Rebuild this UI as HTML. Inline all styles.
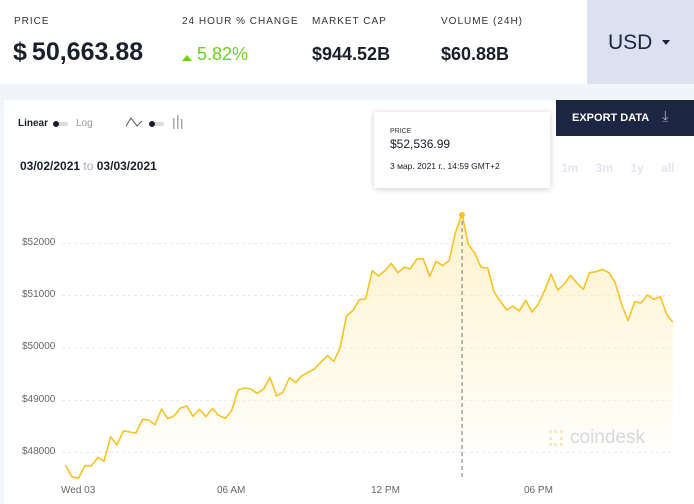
<!DOCTYPE html>
<html><head><meta charset="utf-8"><style>
*{margin:0;padding:0;box-sizing:border-box}
body{width:694px;height:504px;background:#f1f4f9;font-family:"Liberation Sans",sans-serif;position:relative;overflow:hidden;color:#1b1e2b}
.a{position:absolute;white-space:nowrap}
.lbl{font-size:10px;letter-spacing:1px;color:#333;top:16px}
.val{font-weight:bold;top:40px;font-size:19px}
</style></head><body>
<div class="a" style="left:0;top:0;width:587px;height:84px;background:#fff"></div>
<div class="a" style="left:587px;top:0;width:107px;height:84px;background:#dce1f0"></div>
<div class="a" style="left:608px;top:31px;font-size:21px;color:#1c2541">USD</div>
<div class="a" style="left:662px;top:40px;width:0;height:0;border-left:4px solid transparent;border-right:4px solid transparent;border-top:5px solid #1c2541"></div>
<div class="a lbl" style="left:14px">PRICE</div>
<div class="a lbl" style="left:182px">24 HOUR % CHANGE</div>
<div class="a lbl" style="left:312px">MARKET CAP</div>
<div class="a lbl" style="left:441px">VOLUME (24H)</div>
<div class="a" style="left:13px;top:38px;font-size:25px;font-weight:bold">$&thinsp;50,663.88</div>
<div class="a" style="left:182px;top:55px;width:0;height:0;border-left:5px solid transparent;border-right:5px solid transparent;border-bottom:6px solid #6ad21f"></div>
<div class="a" style="left:197px;top:44px;font-size:18px;color:#6ad21f">5.82%</div>
<div class="a val" style="left:312px;top:44px;font-size:18px">$944.52B</div>
<div class="a val" style="left:441px;top:44px;font-size:18px">$60.88B</div>

<div class="a" style="left:4px;top:100px;width:690px;height:404px;background:#fff"></div>
<div class="a" style="left:556px;top:100px;width:138px;height:36px;background:#1c2541"></div>
<div class="a" style="left:572px;top:112px;font-size:11px;font-weight:bold;color:#fff">EXPORT DATA</div>
<div class="a" style="left:662px;top:108px;font-size:15px;color:#aab">&#x2913;</div>

<div class="a" style="left:18px;top:118px;font-size:10px;font-weight:bold">Linear</div>
<div class="a" style="left:54px;top:122px;width:14px;height:4px;background:#ddd;border-radius:2px"></div>
<div class="a" style="left:53px;top:121px;width:6px;height:6px;background:#1b1e2b;border-radius:3px"></div>
<div class="a" style="left:76px;top:118px;font-size:10px;color:#999">Log</div>
<svg class="a" style="left:124px;top:115px" width="66" height="16"><polyline points="2,11 7,3 13,11 18,6" fill="none" stroke="#555" stroke-width="1"/><rect x="26" y="7" width="14" height="4" rx="2" fill="#ddd"/><circle cx="28" cy="9" r="3" fill="#1b1e2b"/><rect x="49" y="3" width="1.5" height="11" fill="#aaa"/><rect x="53" y="0" width="1.5" height="14" fill="#aaa"/><rect x="57" y="4" width="1.5" height="10" fill="#aaa"/></svg>
<div class="a" style="left:20px;top:159px;font-size:12px;font-weight:bold">03/02/2021 <span style="color:#aab;font-weight:normal">to</span> 03/03/2021</div>
<div class="a" style="left:561px;top:161px;font-size:12px;font-weight:bold;color:#e3e6ee;word-spacing:14px">1m 3m 1y all</div>

<svg class="a" style="left:0;top:200px" width="694" height="304" viewBox="0 0 1568 912" preserveAspectRatio="none">
<defs><linearGradient id="g" x1="0" y1="0" x2="0" y2="1"><stop offset="0" stop-color="#ffe9a8" stop-opacity=".6"/><stop offset="0.75" stop-color="#fff6dc" stop-opacity=".4"/><stop offset="1" stop-color="#fff" stop-opacity="0"/></linearGradient></defs>
<g stroke="#e6e8f0" stroke-dasharray="3,3" vector-effect="non-scaling-stroke">
<line x1="140" y1="130" x2="1520" y2="130" vector-effect="non-scaling-stroke"/><line x1="140" y1="287" x2="1520" y2="287" vector-effect="non-scaling-stroke"/><line x1="140" y1="444" x2="1520" y2="444" vector-effect="non-scaling-stroke"/><line x1="140" y1="601" x2="1520" y2="601" vector-effect="non-scaling-stroke"/><line x1="140" y1="757" x2="1520" y2="757" vector-effect="non-scaling-stroke"/></g>
<polygon fill="url(#g)" points="148,840 148,795 162,830 177,835 192,797 206,798 221,772 235,784 250,710 264,735 279,692 293,696 307,699 322,658 336,660 350,674 365,627 379,656 393,648 408,624 422,618 436,649 451,628 465,650 480,625 494,646 509,655 523,633 538,570 552,564 567,567 581,580 596,567 610,532 625,588 639,577 654,533 668,548 682,527 697,517 711,506 725,486 740,467 754,484 768,445 783,348 797,332 812,299 826,297 841,212 855,228 870,212 884,190 899,218 913,202 927,206 942,177 956,176 971,229 985,184 1000,197 1015,181 1029,98 1044,42 1058,133 1073,160 1087,202 1102,204 1116,275 1130,303 1145,330 1159,318 1173,333 1188,301 1202,336 1216,313 1231,270 1245,222 1260,270 1274,253 1289,226 1303,248 1318,268 1332,218 1347,215 1361,208 1376,218 1390,248 1405,315 1419,362 1434,305 1448,309 1463,285 1477,298 1492,290 1506,342 1520,367 1520,840"/>
<polyline fill="none" stroke="#f7c223" stroke-width="1.6" vector-effect="non-scaling-stroke" stroke-linejoin="round" points="148,795 162,830 177,835 192,797 206,798 221,772 235,784 250,710 264,735 279,692 293,696 307,699 322,658 336,660 350,674 365,627 379,656 393,648 408,624 422,618 436,649 451,628 465,650 480,625 494,646 509,655 523,633 538,570 552,564 567,567 581,580 596,567 610,532 625,588 639,577 654,533 668,548 682,527 697,517 711,506 725,486 740,467 754,484 768,445 783,348 797,332 812,299 826,297 841,212 855,228 870,212 884,190 899,218 913,202 927,206 942,177 956,176 971,229 985,184 1000,197 1015,181 1029,98 1044,42 1058,133 1073,160 1087,202 1102,204 1116,275 1130,303 1145,330 1159,318 1173,333 1188,301 1202,336 1216,313 1231,270 1245,222 1260,270 1274,253 1289,226 1303,248 1318,268 1332,218 1347,215 1361,208 1376,218 1390,248 1405,315 1419,362 1434,305 1448,309 1463,285 1477,298 1492,290 1506,342 1520,367"/>
<line x1="1044" y1="42" x2="1044" y2="835" stroke="#777" stroke-dasharray="4,3" vector-effect="non-scaling-stroke"/>
</svg>
<div class="a" style="left:459px;top:212px;width:6px;height:6px;border-radius:3px;background:#f7c223"></div>
<div class="a" style="left:22px;top:237px;font-size:10px;color:#666">$52000</div>
<div class="a" style="left:22px;top:289px;font-size:10px;color:#666">$51000</div>
<div class="a" style="left:22px;top:341px;font-size:10px;color:#666">$50000</div>
<div class="a" style="left:22px;top:394px;font-size:10px;color:#666">$49000</div>
<div class="a" style="left:22px;top:446px;font-size:10px;color:#666">$48000</div>
<div class="a" style="left:61px;top:485px;font-size:10px;color:#666">Wed 03</div>
<div class="a" style="left:217px;top:485px;font-size:10px;color:#666">06 AM</div>
<div class="a" style="left:371px;top:485px;font-size:10px;color:#666">12 PM</div>
<div class="a" style="left:524px;top:485px;font-size:10px;color:#666">06 PM</div>
<div class="a" style="left:549px;top:430px;width:14px;height:16px;border:3px dotted #fbe7b8"></div>
<div class="a" style="left:570px;top:427px;font-size:19px;color:#d6d9e0">coindesk</div>

<div class="a" style="left:374px;top:112px;width:176px;height:76px;background:#fff;box-shadow:0 1px 6px rgba(0,0,0,.2)"></div>
<div class="a" style="left:390px;top:128px;font-size:7px;color:#333">PRICE</div>
<div class="a" style="left:390px;top:137px;font-size:12px;color:#1b1e2b">$52,536.99</div>
<div class="a" style="left:390px;top:161px;font-size:8.5px;color:#1b1e2b">3 мар. 2021 г., 14:59 GMT+2</div>
</body></html>
